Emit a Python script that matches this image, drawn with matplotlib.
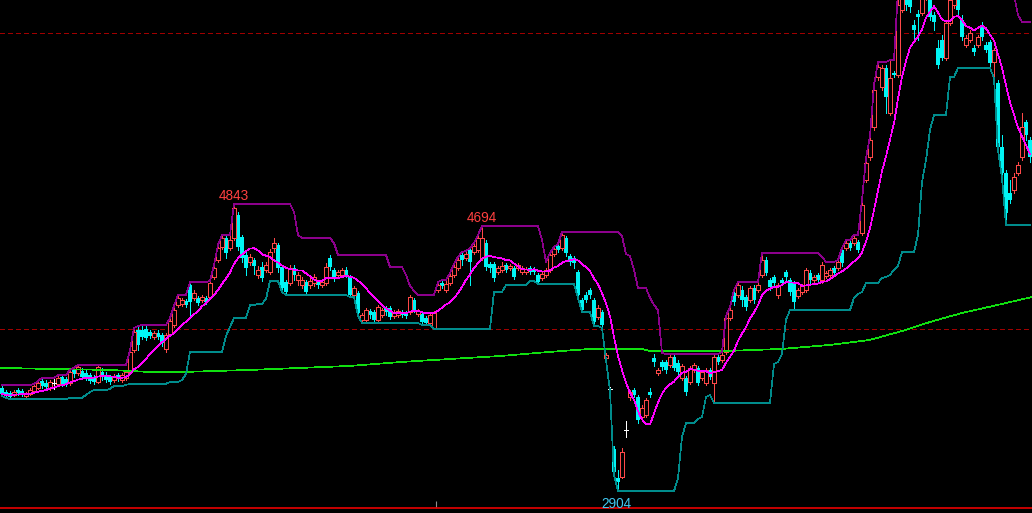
import matplotlib
matplotlib.use('Agg')
import matplotlib.pyplot as plt
import numpy as np
import pandas as pd

# ---------------- data (prices) ----------------
opens = [
 3602, 3574, 3567, 3554, 3588, 3581, 3547, 3561, 3581, 3602,
 3649, 3636, 3602, 3636, 3629, 3676, 3662, 3636, 3723, 3703,
 3716, 3703, 3689, 3675, 3642, 3709, 3682, 3675, 3655, 3689,
 3655, 3669, 3709, 3858, 3993, 3993, 4000, 3980, 3946, 3973,
 3959, 3865, 3966, 4027, 4162, 4169, 4189, 4297, 4210, 4210,
 4196, 4210, 4217, 4351, 4466, 4554, 4615, 4547, 4615, 4770,
 4622, 4500, 4453, 4466, 4365, 4419, 4399, 4385, 4547, 4568,
 4419, 4317, 4311, 4412, 4331, 4297, 4317, 4297, 4311, 4317,
 4297, 4311, 4480, 4399, 4365, 4365, 4399, 4351, 4230, 4243,
 4061, 4061, 4122, 4115, 4061, 4095, 4142, 4142, 4088, 4095,
 4115, 4108, 4115, 4196, 4101, 4101, 4074, 4041, 4007, 4264,
 4311, 4264, 4311, 4365, 4412, 4500, 4480, 4534, 4520, 4534,
 4480, 4581, 4439, 4439, 4385, 4399, 4432, 4412, 4412, 4412,
 4385, 4385, 4412, 4405, 4365, 4345, 4365, 4399, 4507, 4561,
 4547, 4615, 4493, 4480, 4385, 4196, 4230, 4264, 4196, 4081,
 4115, 3804, 3595, 3189, 2993, 3000, 3318, 3540, 3588, 3540,
 3405, 3419, 3574, 3804, 3703, 3777, 3777, 3757, 3811, 3770,
 3669, 3669, 3642, 3723, 3737, 3669, 3636, 3723, 3636, 3811,
 3790, 3844, 4074, 4243, 4230, 4264, 4216, 4196, 4277, 4264,
 4365, 4466, 4331, 4351, 4230, 4331, 4385, 4331, 4311, 4223,
 4250, 4264, 4378, 4331, 4365, 4331, 4358, 4365, 4412, 4412,
 4534, 4547, 4581, 4581, 4588, 4649, 5007, 5162, 5365, 5703,
 5635, 5764, 5459, 5730, 5716, 6155, 6290, 6223, 6054, 6128,
 6135, 6257, 6223, 6122, 5899, 5953, 5831, 6068, 6189, 6223,
 6088, 5919, 5953, 5899, 5919, 6054, 5919, 5939, 5804, 5662,
 5230, 5054, 4919, 4939, 5054, 5162, 5399, 5277]

highs = [
 3622, 3588, 3581, 3588, 3602, 3595, 3574, 3602, 3628, 3649,
 3669, 3655, 3655, 3669, 3689, 3689, 3675, 3723, 3737, 3757,
 3737, 3723, 3703, 3689, 3757, 3737, 3709, 3689, 3696, 3703,
 3703, 3723, 3858, 4007, 4020, 4027, 4020, 3993, 3986, 3993,
 3973, 3973, 4074, 4155, 4230, 4210, 4203, 4317, 4264, 4223,
 4230, 4223, 4324, 4432, 4568, 4635, 4635, 4628, 4843, 4791,
 4635, 4520, 4507, 4480, 4426, 4453, 4453, 4541, 4615, 4581,
 4432, 4331, 4432, 4432, 4385, 4351, 4331, 4345, 4372, 4331,
 4338, 4446, 4500, 4412, 4399, 4412, 4419, 4365, 4291, 4257,
 4108, 4142, 4135, 4128, 4162, 4142, 4155, 4155, 4128, 4135,
 4128, 4122, 4230, 4210, 4135, 4115, 4088, 4108, 4122, 4317,
 4331, 4324, 4378, 4439, 4487, 4520, 4527, 4547, 4581, 4635,
 4694, 4601, 4453, 4453, 4426, 4453, 4446, 4439, 4426, 4446,
 4426, 4419, 4426, 4419, 4378, 4385, 4412, 4514, 4554, 4574,
 4655, 4628, 4507, 4493, 4399, 4210, 4250, 4277, 4210, 4162,
 4128, 3838, 3608, 3209, 3047, 3196, 3378, 3588, 3602, 3554,
 3486, 3534, 3602, 3831, 3737, 3790, 3790, 3831, 3824, 3790,
 3764, 3682, 3750, 3770, 3750, 3723, 3737, 3737, 3824, 3824,
 3844, 4088, 4149, 4264, 4317, 4291, 4230, 4291, 4297, 4311,
 4514, 4487, 4345, 4365, 4311, 4345, 4399, 4345, 4324, 4277,
 4304, 4412, 4399, 4365, 4378, 4453, 4392, 4412, 4426, 4466,
 4547, 4601, 4601, 4635, 4601, 4872, 5155, 5304, 5649, 5804,
 5784, 5784, 5818, 5743, 6291, 6392, 6358, 6290, 6088, 6155,
 6324, 6426, 6257, 6142, 5953, 5987, 6088, 6290, 6358, 6257,
 6122, 5987, 6020, 5919, 5987, 6074, 5939, 5953, 5899, 5682,
 5311, 5074, 5007, 5054, 5128, 5459, 5412, 5297]

lows = [
 3547, 3534, 3527, 3547, 3554, 3547, 3534, 3554, 3574, 3595,
 3602, 3595, 3588, 3595, 3615, 3615, 3615, 3622, 3675, 3689,
 3662, 3655, 3636, 3629, 3636, 3655, 3642, 3629, 3642, 3649,
 3642, 3655, 3696, 3844, 3858, 3932, 3926, 3939, 3932, 3932,
 3885, 3844, 3953, 4014, 4149, 4155, 4149, 4074, 4196, 4162,
 4183, 4169, 4203, 4338, 4453, 4541, 4480, 4534, 4601, 4534,
 4453, 4365, 4432, 4372, 4345, 4324, 4385, 4372, 4520, 4385,
 4250, 4230, 4297, 4331, 4297, 4277, 4230, 4277, 4291, 4277,
 4284, 4297, 4399, 4324, 4345, 4351, 4351, 4216, 4216, 4088,
 4041, 4047, 4074, 4047, 4047, 4081, 4095, 4068, 4074, 4081,
 4081, 4074, 4101, 4115, 4088, 4027, 4027, 4027, 4000, 4250,
 4277, 4250, 4297, 4351, 4399, 4432, 4466, 4297, 4507, 4520,
 4466, 4399, 4385, 4324, 4372, 4385, 4385, 4399, 4338, 4399,
 4372, 4372, 4372, 4372, 4304, 4331, 4351, 4385, 4493, 4520,
 4534, 4493, 4432, 4412, 4210, 4115, 4183, 4210, 4020, 4068,
 4007, 3790, 3581, 3013, 2904, 2993, 3270, 3520, 3540, 3365,
 3392, 3405, 3540, 3750, 3689, 3723, 3703, 3743, 3723, 3689,
 3655, 3554, 3629, 3709, 3622, 3655, 3622, 3662, 3500, 3764,
 3777, 3831, 4061, 4162, 4216, 4155, 4128, 4183, 4176, 4250,
 4351, 4365, 4264, 4297, 4210, 4297, 4331, 4230, 4128, 4210,
 4237, 4250, 4311, 4317, 4317, 4311, 4345, 4351, 4365, 4399,
 4426, 4534, 4534, 4568, 4520, 4635, 4993, 5142, 5345, 5682,
 5615, 5459, 5446, 5703, 5703, 6142, 6155, 6142, 5953, 5953,
 6122, 6223, 6088, 6020, 5764, 5818, 5818, 6054, 6169, 6122,
 5953, 5905, 5939, 5851, 5905, 5953, 5872, 5777, 5696, 5209,
 5020, 4703, 4851, 4919, 5040, 5142, 5277, 5128]

closes = [
 3561, 3547, 3540, 3574, 3567, 3561, 3567, 3588, 3615, 3636,
 3615, 3608, 3642, 3636, 3669, 3629, 3629, 3709, 3696, 3743,
 3675, 3669, 3649, 3642, 3743, 3675, 3655, 3642, 3682, 3662,
 3689, 3709, 3845, 3980, 3892, 3946, 3939, 3953, 3973, 3946,
 3905, 3959, 4054, 4128, 4210, 4196, 4162, 4183, 4244, 4176,
 4217, 4183, 4311, 4412, 4547, 4615, 4513, 4601, 4818, 4554,
 4480, 4412, 4486, 4426, 4399, 4345, 4432, 4520, 4581, 4412,
 4277, 4250, 4412, 4365, 4365, 4331, 4250, 4324, 4351, 4297,
 4317, 4419, 4419, 4345, 4385, 4399, 4365, 4230, 4277, 4108,
 4095, 4128, 4095, 4061, 4149, 4128, 4115, 4081, 4115, 4122,
 4095, 4088, 4217, 4128, 4122, 4047, 4041, 4095, 4108, 4297,
 4291, 4304, 4358, 4419, 4466, 4466, 4507, 4453, 4561, 4615,
 4615, 4419, 4412, 4345, 4412, 4426, 4399, 4426, 4351, 4432,
 4412, 4405, 4385, 4385, 4317, 4372, 4399, 4500, 4541, 4534,
 4635, 4514, 4453, 4446, 4230, 4128, 4196, 4230, 4047, 4142,
 4027, 3824, 3595, 3034, 2966, 3169, 3318, 3574, 3554, 3385,
 3466, 3520, 3554, 3777, 3723, 3743, 3723, 3811, 3737, 3709,
 3750, 3574, 3737, 3757, 3636, 3709, 3723, 3675, 3811, 3777,
 3824, 4074, 4128, 4183, 4297, 4196, 4149, 4277, 4196, 4297,
 4466, 4378, 4284, 4311, 4297, 4311, 4351, 4250, 4183, 4264,
 4291, 4399, 4331, 4351, 4331, 4432, 4378, 4399, 4378, 4453,
 4446, 4581, 4547, 4615, 4534, 4838, 5122, 5277, 5615, 5770,
 5764, 5568, 5696, 5716, 6189, 6324, 6189, 6176, 6020, 6108,
 6257, 6358, 6108, 6074, 5784, 5831, 6068, 6223, 6290, 6155,
 5973, 5966, 6000, 5872, 5973, 5973, 5885, 5797, 5885, 5230,
 5054, 4784, 4872, 5027, 5108, 5365, 5311, 5162]

# long moving average (green), vertices read at bar positions
long_ma_idx = [-0.5, 11, 27, 37, 45, 62, 75, 87, 100, 112, 125, 137, 147, 160,
               162, 181, 195, 207, 217, 225, 232, 240, 250, 257.5]
long_ma_val = [3737, 3730, 3723, 3709, 3709, 3723, 3737, 3750, 3777, 3797, 3818,
               3845, 3865, 3865, 3851, 3851, 3865, 3892, 3926, 3986, 4047, 4108,
               4169, 4216]

ref_levels = [4000, 6000]
date_tick = [108.5]
ma_period = 10
channel_period = 15

# ---------------- styling ----------------
RED = '#ff4848'
CYAN = '#00f4f4'
MAGENTA = '#ff00ff'
PURPLE = '#8c008c'
TEAL = '#008c8c'
GREEN = '#10e010'

o = np.array(opens, float)
h = np.array(highs, float)
l = np.array(lows, float)
c = np.array(closes, float)
n = len(c)
x = np.arange(n)

fig = plt.figure(figsize=(10.32, 5.13), dpi=100, facecolor='black')
ax = fig.add_axes([0, 5 / 513, 1, 508 / 513])
ax.set_facecolor('black')

up = c > o
dn = c < o
eq = c == o
w = 0.82
lw = 0.5
LW = 0.5
AA = False

# falling bars: solid cyan
ax.vlines(x[dn], l[dn], h[dn], color=CYAN, lw=lw, zorder=2, antialiased=AA)
ax.bar(x[dn], o[dn] - c[dn], bottom=c[dn], width=w, color=CYAN, linewidth=0,
       zorder=2, antialiased=AA)
# rising bars: hollow red
ax.vlines(x[up], c[up], h[up], color=RED, lw=lw, zorder=2, antialiased=AA)
ax.vlines(x[up], l[up], o[up], color=RED, lw=lw, zorder=2, antialiased=AA)
ax.bar(x[up], c[up] - o[up], bottom=o[up], width=w, facecolor='black',
       edgecolor=RED, linewidth=0.5, zorder=2, antialiased=AA)
# doji: white cross
ax.vlines(x[eq], l[eq], h[eq], color='white', lw=lw, zorder=2, antialiased=AA)
ax.hlines(c[eq], x[eq] - w / 2, x[eq] + w / 2, color='white', lw=lw, zorder=2,
          antialiased=AA)

# indicator lines
ma = pd.Series(c).rolling(ma_period, min_periods=1).mean()
upper = pd.Series(h).rolling(channel_period, min_periods=1).max()
lower = pd.Series(l).rolling(channel_period, min_periods=1).min()

ax.plot(long_ma_idx, long_ma_val, color=GREEN, lw=LW, zorder=3, antialiased=AA)
ax.plot(x, upper, color=PURPLE, lw=LW, zorder=3, antialiased=AA)
ax.plot(x, lower, color=TEAL, lw=LW, zorder=3, antialiased=AA)
ax.plot(x, ma, color=MAGENTA, lw=LW, zorder=4, antialiased=AA)

for lvl in ref_levels:
    ax.axhline(lvl, color='#a00000', lw=0.5, ls=(0, (7, 5)), zorder=1,
               antialiased=AA)

# extreme labels
i_hi1 = int(np.argmax(h[:100]))
i_hi2 = 100 + int(np.argmax(h[100:150]))
i_lo = int(np.argmin(l))
font = dict(family=['Liberation Sans', 'DejaVu Sans'], fontsize=9.8)
ax.annotate(f'{h[i_hi1]:.0f}', (i_hi1, h[i_hi1]), xytext=(0, 1), textcoords='offset points',
            ha='center', va='bottom', color='#ff4040', **font)
ax.annotate(f'{h[i_hi2]:.0f}', (i_hi2, h[i_hi2]), xytext=(0, 1), textcoords='offset points',
            ha='center', va='bottom', color='#ff4040', **font)
ax.annotate(f'{l[i_lo]:.0f}', (i_lo, l[i_lo]), xytext=(-1, -4), textcoords='offset points',
            ha='center', va='top', color='#40c8f0', **font)

ax.set_xlim(-0.5, n - 0.5)
ax.set_ylim(2790, 6223)
for s in ['top', 'left', 'right']:
    ax.spines[s].set_visible(False)
ax.spines['bottom'].set_color('#d80000')
ax.spines['bottom'].set_linewidth(1.3)
ax.set_yticks([])
ax.set_xticks(date_tick)
ax.set_xticklabels([])
ax.tick_params(axis='x', direction='in', length=5, width=0.8, color='#909090')

fig.savefig('out.png', dpi=100, facecolor='black')
